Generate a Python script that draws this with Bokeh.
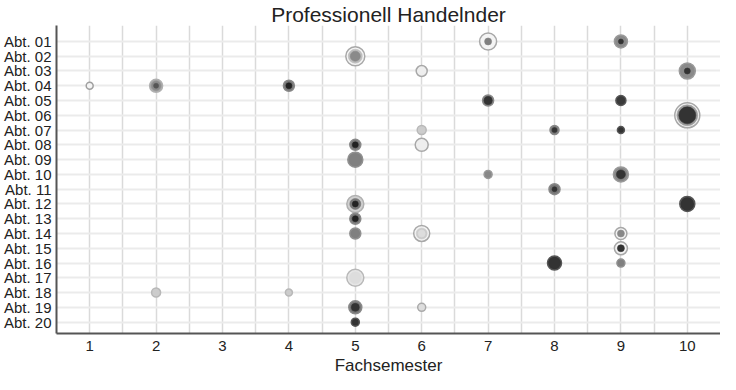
from bokeh.plotting import figure
from bokeh.models import Range1d, FixedTicker, Title
from bokeh.embed import file_html
from bokeh.resources import INLINE

# --- data ---
abt_labels = ["Abt. %02d" % i for i in range(1, 21)]
x_ticks = [1, 2, 3, 4, 5, 6, 7, 8, 9, 10]

semester = [7, 9, 5, 6, 10, 1, 2, 4, 7, 9, 10, 6, 8, 9, 5, 6, 5, 7, 9, 8,
            5, 10, 5, 5, 6, 9, 9, 8, 9, 5, 2, 4, 5, 6, 5]
abteilung = [1, 1, 2, 3, 3, 4, 4, 4, 5, 5, 6, 7, 7, 7, 8, 8, 9, 10, 10, 11,
             12, 12, 13, 14, 14, 14, 15, 16, 16, 17, 18, 18, 19, 19, 20]
outer_size = [17, 13, 19, 11, 16, 7, 13, 11, 11, 10, 25, 9, 9, 7, 11, 13, 15, 8, 15, 11,
              17, 15, 11, 11, 16, 12, 13, 14, 8, 17, 9, 7, 13, 8, 8]
outer_color = ["#f4f4f4", "#8a8a8a", "#f4f4f4", "#eeeeee", "#8a8a8a", "#f4f4f4", "#a0a0a0",
               "#777777", "#666666", "#3a3a3a", "#f4f4f4", "#cccccc", "#777777", "#333333",
               "#777777", "#eeeeee", "#808080", "#888888", "#888888", "#777777", "#d0d0d0",
               "#333333", "#777777", "#808080", "#f4f4f4", "#f4f4f4", "#f4f4f4", "#333333",
               "#808080", "#e6e6e6", "#cccccc", "#cccccc", "#777777", "#dddddd", "#333333"]
outer_line = ["#a8a8a8", "#9a9a9a", "#a8a8a8", "#a8a8a8", "#9a9a9a", "#a0a0a0", "#b0b0b0",
              "#888888", "#888888", "#555555", "#a8a8a8", "#b8b8b8", "#888888", "#555555",
              "#888888", "#a8a8a8", "#909090", "#999999", "#999999", "#888888", "#b0b0b0",
              "#555555", "#888888", "#909090", "#a8a8a8", "#a8a8a8", "#a8a8a8", "#555555",
              "#909090", "#b8b8b8", "#b8b8b8", "#b8b8b8", "#888888", "#aaaaaa", "#555555"]
mid_size = [7, 5, 14, 0, 6, 0, 9, 6, 8, 0, 21, 0, 5, 0, 6, 0, 0, 0, 9, 5,
            11, 0, 6, 0, 11, 7, 7, 0, 0, 12, 0, 0, 8, 0, 0]
mid_color = ["#808080", "#333333", "#bdbdbd", None, "#333333", None, "#8a8a8a", "#222222",
             "#333333", None, "#999999", None, "#333333", None, "#222222", None, None, None,
             "#333333", "#333333", "#777777", None, "#222222", None, "#cccccc", "#888888",
             "#333333", None, None, "#dddddd", None, None, "#333333", None, None]
inner_size = [0, 0, 10, 0, 0, 0, 5, 0, 0, 0, 17, 0, 0, 0, 0, 0, 0, 0, 0, 0,
              6, 0, 0, 0, 7, 0, 0, 0, 0, 0, 0, 0, 0, 0, 0]
inner_color = [None, None, "#8a8a8a", None, None, None, "#555555", None, None, None,
               "#333333", None, None, None, None, None, None, None, None, None,
               "#222222", None, None, None, "#dddddd", None, None, None, None, None,
               None, None, None, None, None]

FONT = "Liberation Sans"

p = figure(width=720, height=374, output_backend="svg", toolbar_location=None,
           title="Professionell Handelnder",
           x_range=Range1d(0.5, 10.5), y_range=Range1d(20.77, -0.08),
           min_border_left=0, min_border_right=0, min_border_top=0, min_border_bottom=0)
p.outline_line_color = None
p.background_fill_color = "white"
p.border_fill_color = "white"

p.title.text_font = FONT
p.title.text_font_size = "21px"
p.title.text_font_style = "normal"
p.title.text_color = "#222222"
p.title.align = "center"
p.title.standoff = 0

# axes
p.xaxis.ticker = FixedTicker(ticks=x_ticks)
p.yaxis.ticker = FixedTicker(ticks=list(range(1, 21)))
p.yaxis.major_label_overrides = {i + 1: lab for i, lab in enumerate(abt_labels)}
for ax in (p.xaxis[0], p.yaxis[0]):
    ax.axis_line_color = "#555555"
    ax.axis_line_width = 2
    ax.major_tick_line_color = None
    ax.minor_tick_line_color = None
    ax.major_tick_out = 0
    ax.major_tick_in = 0
    ax.major_label_text_font = FONT
    ax.major_label_text_font_size = "15px"
    ax.major_label_text_color = "#222222"
p.xaxis.major_label_standoff = 7
p.yaxis.major_label_standoff = 5

# x axis title as a panel below the axis
xt = Title(text="Fachsemester", align="center", text_font=FONT, text_font_size="17px",
           text_font_style="normal", text_color="#222222", standoff=0)
p.add_layout(xt, "below")

# grids
p.xgrid.ticker = FixedTicker(ticks=[1 + 0.5 * i for i in range(20)])
p.xgrid.grid_line_color = "#dadada"
p.xgrid.grid_line_width = 1.5
p.ygrid.ticker = FixedTicker(ticks=list(range(1, 21)))
p.ygrid.grid_line_color = "#ebebeb"
p.ygrid.grid_line_width = 2

# layered bubbles
def sel(sizes, colors):
    idx = [i for i, s in enumerate(sizes) if s > 0]
    return ([semester[i] for i in idx], [abteilung[i] for i in idx],
            [sizes[i] for i in idx], [colors[i] for i in idx])

p.scatter(semester, abteilung, size=outer_size, fill_color=outer_color,
          line_color=outer_line, line_width=1.5)
xs, ys, ss, cs = sel(mid_size, mid_color)
p.scatter(xs, ys, size=ss, fill_color=cs, line_color=cs, line_width=1, line_alpha=0.6)
xs, ys, ss, cs = sel(inner_size, inner_color)
p.scatter(xs, ys, size=ss, fill_color=cs, line_color=cs, line_width=1, line_alpha=0.6)

open("out.html", "w").write(file_html(p, INLINE))
